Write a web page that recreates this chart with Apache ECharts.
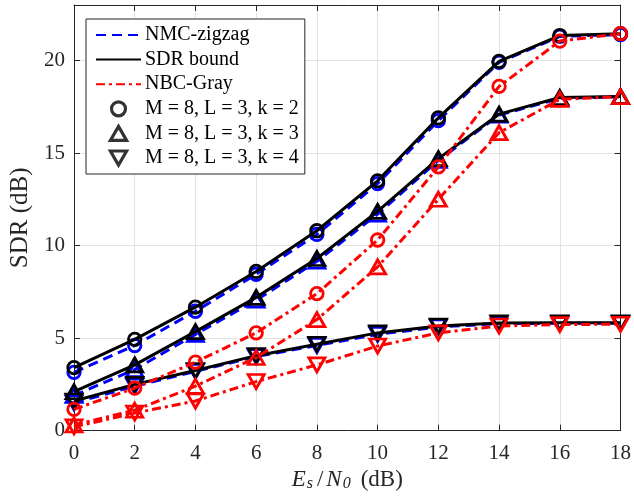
<!DOCTYPE html>
<html>
<head>
<meta charset="utf-8">
<script src="https://cdn.jsdelivr.net/npm/echarts@6/dist/echarts.min.js"></script>
<style>
  html, body { margin: 0; padding: 0; background: #fff; }
  #chart { width: 634px; height: 497px; }
</style>
</head>
<body>
<div id="chart"></div>
<script>
// Es/N0 grid (dB)
const snr = [0, 2, 4, 6, 8, 10, 12, 14, 16, 18];
const xTicks = [0, 2, 4, 6, 8, 10, 12, 14, 16, 18];
const yTicks = [0, 5, 10, 15, 20];

// SDR (dB) for M = 8, L = 3
const nmcK2 = [3.15, 4.6, 6.45, 8.45, 10.6, 13.35, 16.75, 19.9, 21.3, 21.4];
const sdrK2 = [3.4, 4.93, 6.67, 8.6, 10.8, 13.5, 16.9, 19.95, 21.35, 21.45];
const nbcK2 = [1.15, 2.3, 3.7, 5.28, 7.4, 10.3, 14.25, 18.6, 21.05, 21.45];

const nmcK3 = [1.9, 3.3, 5.2, 7.05, 9.15, 11.7, 14.6, 17.05, 17.95, 18.05];
const sdrK3 = [2.1, 3.55, 5.35, 7.2, 9.3, 11.85, 14.7, 17.1, 18.0, 18.05];
const nbcK3 = [0.3, 1.1, 2.4, 3.95, 6.0, 8.85, 12.5, 16.1, 17.9, 18.05];

const nmcK4 = [1.5, 2.4, 3.2, 4.0, 4.6, 5.2, 5.6, 5.78, 5.8, 5.8];
const sdrK4 = [1.6, 2.5, 3.25, 4.05, 4.67, 5.28, 5.65, 5.82, 5.83, 5.83];
const nbcK4 = [0.2, 0.95, 1.6, 2.65, 3.55, 4.57, 5.28, 5.65, 5.73, 5.75];

const methodNames = ['NMC-zigzag', 'SDR bound', 'NBC-Gray'];
const caseNames = ['M = 8, L = 3, k = 2', 'M = 8, L = 3, k = 3', 'M = 8, L = 3, k = 4'];

const FONT = "'Liberation Serif', 'Times New Roman', serif";
const AXIS = '#262626';
const BLUE = '#0000ff';
const RED = '#ff0000';
const BLACK = '#000000';

const UP_TRI = 'path://M5,0L10,8.66L0,8.66Z';
const DOWN_TRI = 'path://M0,0L10,0L5,8.66Z';
const symbols = [
  { symbol: 'circle', size: 12.5 },
  { symbol: UP_TRI, size: [16, 14] },
  { symbol: DOWN_TRI, size: [16, 14] }
];

const styles = {
  nmc: { color: BLUE, type: [10, 6], width: 3, z: 2 },
  sdr: { color: BLACK, type: 'solid', width: 3, z: 3 },
  nbc: { color: RED, type: [9, 4, 3, 4], width: 3, z: 4 }
};

function curve(values, style, k) {
  return {
    type: 'line',
    name: '_' + style.color + k,
    data: snr.map((x, i) => [x, values[i]]),
    symbol: symbols[k].symbol,
    symbolSize: symbols[k].size,
    showAllSymbol: true,
    z: style.z,
    lineStyle: { color: style.color, type: style.type, width: style.width },
    itemStyle: { color: 'rgba(0,0,0,0)', borderColor: style.color, borderWidth: 2.8 },
    emphasis: { disabled: true },
    animation: false
  };
}

const series = [
  curve(nmcK2, styles.nmc, 0), curve(nmcK3, styles.nmc, 1), curve(nmcK4, styles.nmc, 2),
  curve(sdrK2, styles.sdr, 0), curve(sdrK3, styles.sdr, 1), curve(sdrK4, styles.sdr, 2),
  curve(nbcK2, styles.nbc, 0), curve(nbcK3, styles.nbc, 1), curve(nbcK4, styles.nbc, 2)
];

// Legend-only entries: line styles for the methods, markers for the cases
[styles.nmc, styles.sdr, styles.nbc].forEach((s, i) => {
  series.push({
    type: 'line', name: methodNames[i], data: [], symbol: 'none',
    lineStyle: { color: s.color, type: s.type, width: 3 },
    itemStyle: { color: s.color }
  });
});
symbols.forEach((s, i) => {
  series.push({
    type: 'scatter', name: caseNames[i], data: [], symbol: s.symbol,
    itemStyle: { color: 'rgba(0,0,0,0)', borderColor: BLACK, borderWidth: 3 }
  });
});

const hiddenMarker = { opacity: 0 };
const hollowMarker = { color: 'rgba(0,0,0,0)', borderColor: BLACK, borderWidth: 3.2 };

// Shared look of the boxed axes
const boxLine = { show: true, onZero: false, lineStyle: { color: AXIS, width: 1 } };
const boxTick = { show: true, inside: true, length: 6, lineStyle: { color: AXIS } };

const chart = echarts.init(document.getElementById('chart'), null, { renderer: 'canvas' });
chart.setOption({
  animation: false,
  backgroundColor: '#fff',
  grid: { left: 74, right: 11, top: 5, bottom: 64, containLabel: false },
  legend: {
    orient: 'vertical',
    left: 86, top: 19,
    padding: [6, 6, 6, 9],
    itemGap: 4.6,
    itemWidth: 45,
    itemHeight: 14,
    backgroundColor: '#fff',
    borderColor: AXIS,
    borderWidth: 1,
    borderRadius: 0,
    selectedMode: false,
    textStyle: { fontFamily: FONT, fontSize: 20, color: BLACK, lineHeight: 20, padding: [0, 0, 0, -1] },
    data: [
      { name: methodNames[0], itemStyle: hiddenMarker },
      { name: methodNames[1], itemStyle: hiddenMarker },
      { name: methodNames[2], itemStyle: hiddenMarker },
      { name: caseNames[0], icon: 'circle', itemStyle: hollowMarker },
      { name: caseNames[1], icon: UP_TRI, itemStyle: hollowMarker },
      { name: caseNames[2], icon: DOWN_TRI, itemStyle: hollowMarker }
    ]
  },
  xAxis: [{
    type: 'value', min: 0, max: 18, interval: 2,
    name: '{i|E}{sub|s}{sl|/}{i|N}{sub|0}{n|(dB)}',
    nameLocation: 'middle', nameGap: 33,
    nameTextStyle: {
      rich: {
        i: { fontFamily: FONT, fontSize: 23, fontStyle: 'italic', color: AXIS, padding: [0, 1, 0, 0] },
        sub: { fontFamily: FONT, fontSize: 16, fontStyle: 'italic', color: AXIS, verticalAlign: 'bottom', padding: [8, 2, 0, 0] },
        sl: { fontFamily: FONT, fontSize: 23, color: AXIS, padding: [0, 3, 0, 2] },
        n: { fontFamily: FONT, fontSize: 23, color: AXIS, padding: [0, 0, 0, 8] }
      }
    },
    axisLine: boxLine,
    axisTick: boxTick,
    axisLabel: { fontFamily: FONT, fontSize: 21, color: AXIS, margin: 12,
      formatter: v => xTicks.includes(v) ? String(v) : '' },
    splitLine: { show: true, lineStyle: { color: '#e3e3e3', width: 1 } }
  }, {
    type: 'value', min: 0, max: 18, interval: 2, position: 'top',
    axisLine: boxLine, axisTick: boxTick,
    axisLabel: { show: false }, splitLine: { show: false }
  }],
  yAxis: [{
    type: 'value', min: 0, max: 23, interval: 5,
    name: 'SDR (dB)', nameLocation: 'middle', nameGap: 37,
    nameTextStyle: { fontFamily: FONT, fontSize: 25, color: AXIS },
    axisLine: boxLine,
    axisTick: boxTick,
    axisLabel: { fontFamily: FONT, fontSize: 21, color: AXIS, margin: 9,
      formatter: v => yTicks.includes(v) ? String(v) : '' },
    splitLine: { show: true, lineStyle: { color: '#e3e3e3', width: 1 } }
  }, {
    type: 'value', min: 0, max: 23, interval: 5, position: 'right',
    axisLine: boxLine, axisTick: boxTick,
    axisLabel: { show: false }, splitLine: { show: false }
  }],
  series: series
});
</script>
</body>
</html>
